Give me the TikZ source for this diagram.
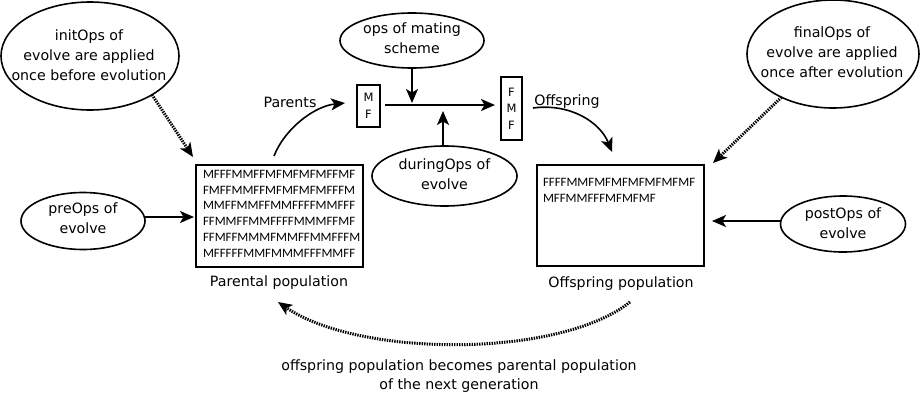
\documentclass[tikz,border=0pt]{standalone}
\usepackage{fontspec}
\setmainfont{DejaVu Sans}
\newfontfamily\popfont{Carlito}
\usetikzlibrary{shapes.geometric,arrows.meta}
\begin{document}
\begin{tikzpicture}[x=1pt,y=-1pt,
  every node/.style={inner sep=0pt, outer sep=0pt},
  oval/.style={ellipse, draw, line width=1.6pt},
  lbl/.style={align=center, font=\fontsize{14.2}{19.8}\selectfont},
  popbox/.style={draw, line width=1.6pt},
  poptext/.style={align=left, font=\popfont\fontsize{12.8}{15.8}\selectfont},
  pairbox/.style={draw, line width=1.4pt, align=center, font=\fontsize{11.5}{16.5}\selectfont},
  arr/.style={line width=1.6pt, -{Stealth[length=14pt,width=12pt,inset=3.5pt]}},
  dotarr/.style={line width=3pt, dash pattern=on 1.4pt off 1.1pt, -{Stealth[length=14pt,width=12pt,inset=3.5pt]}}
]
\fill[white] (0,0) rectangle (921,402);
\path[use as bounding box] (0,0) rectangle (921,402);

% ellipses
\node[oval, minimum width=178, minimum height=108] (init) at (90,56) {};
\node[lbl] (initt) at (89,55) {initOps of\\evolve are applied\\once before evolution};
\node[oval, minimum width=172, minimum height=108] (final) at (833,54) {};
\node[lbl] (finalt) at (832,52) {finalOps of\\evolve are applied\\once after evolution};
\node[oval, minimum width=144, minimum height=55] (ops) at (412,40.5) {};
\node[lbl] (opst) at (412,38) {ops of mating\\scheme};
\node[oval, minimum width=145, minimum height=60] (during) at (444.5,176) {};
\node[lbl] (duringt) at (444.5,174) {duringOps of\\evolve};
\node[oval, minimum width=124, minimum height=57] (pre) at (83,221) {};
\node[lbl] (pret) at (83,218) {preOps of\\evolve};
\node[oval, minimum width=125, minimum height=56] (post) at (843,224) {};
\node[lbl] (postt) at (843,223) {postOps of\\evolve};

% population boxes
\node[popbox, minimum width=167, minimum height=102] (par) at (279.5,216) {};
\node[poptext, anchor=north west] (partext) at (203,170) {MFFFMMFFMFMFMFMFFMF\\FMFFMMFFMFMFMFMFFFM\\MMFFMMFFMMFFFFMMFFF\\FFMMFFMMFFFFMMMFFMF\\FFMFFMMMFMMFFMMFFFM\\MFFFFFMMFMMMFFFMMFF};
\node[popbox, minimum width=167, minimum height=101] (off) at (620.5,215.5) {};
\node[poptext, anchor=north west] (offtext) at (543,178) {FFFFMMFMFMFMFMFMFMF\\MFFMMFFFMFMFMF};

\node[lbl] (parl) at (279,283) {Parental population};
\node[lbl] (offl) at (621,284) {Offspring population};

% parent / offspring pairs
\node[pairbox, minimum width=23, minimum height=42] (mf) at (368.5,106) {M\\F};
\node[pairbox, minimum width=21, minimum height=63] (fmf) at (511.5,108.5) {F\\M\\F};

\node[lbl] (parents) at (290,102) {Parents};
\node[lbl] (offspring) at (567,102) {Offspring};

% connectors
\coordinate (m1) at (385,105);
\coordinate (m2) at (495,105);
\draw[arr] (m1) -- (m2);
\coordinate (j1) at (412,103);
\draw[arr] (ops.south -| j1) -- (j1);
\coordinate (j2) at (443,111);
\draw[arr] (during.north -| j2) -- (j2);

\coordinate (pa1) at (274,156);
\coordinate (pa2) at (345,103);
\draw[arr] (pa1) .. controls (285,128) and (315,106) .. (pa2);
\coordinate (of1) at (533,108);
\coordinate (of2) at (612,152);
\draw[arr] (of1) .. controls (570,103) and (600,122) .. (of2);

\coordinate (pr1) at (194,217);
\draw[arr] (pre.east |- pr1) -- (pr1);
\coordinate (po1) at (712,221);
\draw[arr] (post.west |- po1) -- (po1);

\coordinate (in1) at (193,157);
\draw[dotarr] (init.-32) -- (in1);
\coordinate (fi1) at (713,163);
\draw[dotarr] (final.-140) -- (fi1);

\coordinate (b1) at (630,302);
\coordinate (b2) at (278,302);
\draw[dotarr] (b1) .. controls (560,358) and (360,358) .. (b2);

\node[lbl] (bottom) at (459,376) {offspring population becomes parental population\\of the next generation};
\end{tikzpicture}
\end{document}
